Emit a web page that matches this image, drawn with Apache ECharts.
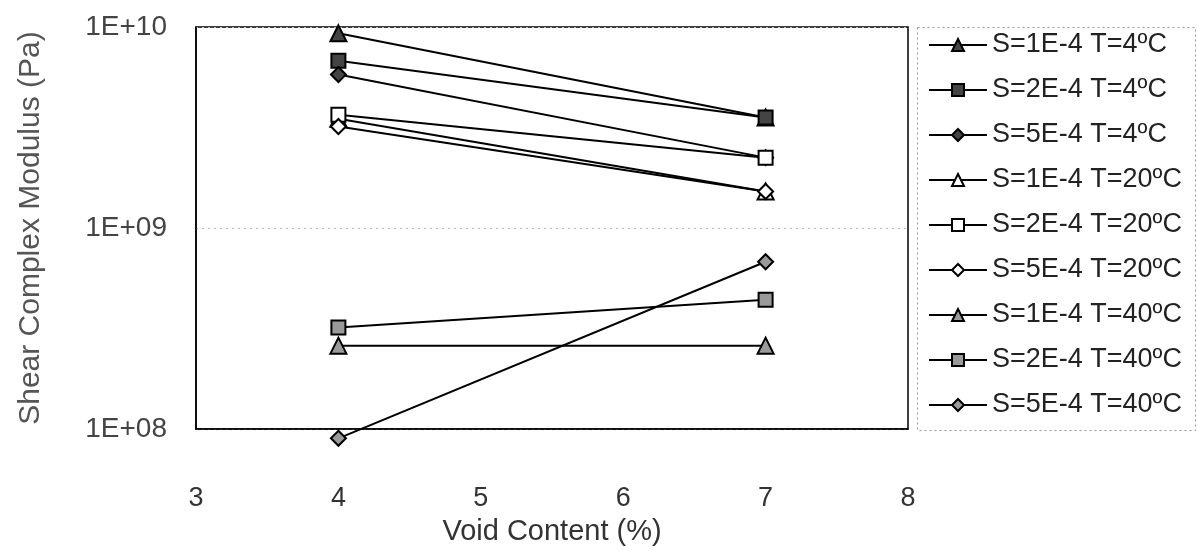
<!DOCTYPE html>
<html>
<head>
<meta charset="utf-8">
<script src="https://cdn.jsdelivr.net/npm/echarts@6/dist/echarts.min.js"></script>
<style>
html,body{margin:0;padding:0;background:#fff;}
#chart{width:1198px;height:551px;}
</style>
</head>
<body>
<div id="chart"></div>
<script>
// ---- data ----
const voidContent = [4, 7];
const seriesNames = [
  'S=1E-4 T=4ºC', 'S=2E-4 T=4ºC', 'S=5E-4 T=4ºC',
  'S=1E-4 T=20ºC', 'S=2E-4 T=20ºC', 'S=5E-4 T=20ºC',
  'S=1E-4 T=40ºC', 'S=2E-4 T=40ºC', 'S=5E-4 T=40ºC'
];
const s1T4  = [9.3e9, 3.55e9];
const s2T4  = [6.8e9, 3.55e9];
const s5T4  = [5.8e9, 2.24e9];
const s1T20 = [3.5e9, 1.52e9];
const s2T20 = [3.66e9, 2.24e9];
const s5T20 = [3.2e9, 1.52e9];
const s1T40 = [2.6e8, 2.6e8];
const s2T40 = [3.2e8, 4.4e8];
const s5T40 = [9.0e7, 6.8e8];
const xTicks = [3, 4, 5, 6, 7, 8];
const yTicks = [1e8, 1e9, 1e10];

const allValues = [s1T4, s2T4, s5T4, s1T20, s2T20, s5T20, s1T40, s2T40, s5T40];
const symbols = ['triangle', 'rect', 'diamond'];
const fills = ['#444', '#fff', '#9a9a9a'];
const sizes = [16, 14, 15];

const FONT = 'Liberation Sans, Arial, sans-serif';

const series = allValues.map((vals, i) => {
  const s = i % 3, t = Math.floor(i / 3);
  return {
    name: seriesNames[i],
    type: 'line',
    clip: false,
    data: vals.map((v, k) => [voidContent[k], v]),
    symbol: symbols[s],
    symbolSize: sizes[s],
    showAllSymbol: true,
    lineStyle: { color: '#000', width: 2 },
    itemStyle: { color: fills[t], borderColor: '#000', borderWidth: 2 },
    emphasis: { disabled: true },
    z: 3 + i
  };
});

const chart = echarts.init(document.getElementById('chart'), null, { renderer: 'canvas' });
chart.setOption({
  animation: false,
  backgroundColor: '#fff',
  textStyle: { fontFamily: FONT },
  grid: { left: 196, right: 290, top: 27, bottom: 116, show: true, borderColor: '#000', borderWidth: 1.5, backgroundColor: 'transparent' },
  legend: {
    orient: 'vertical',
    left: 928, top: 30,
    padding: 0,
    itemWidth: 58, itemHeight: 15,
    itemGap: 15,
    itemTextGap: 6,
    textStyle: { fontSize: 27, color: '#222', lineHeight: 30, fontFamily: FONT },
    data: seriesNames
  },
  graphic: [{
    type: 'rect',
    shape: { x: 917.5, y: 27.5, width: 278, height: 403 },
    style: { fill: 'none', stroke: '#999', lineWidth: 1, lineDash: [2, 3] },
    silent: true
  }],
  xAxis: {
    type: 'value', min: 3, max: 8, interval: 1,
    name: 'Void Content (%)', nameLocation: 'middle', nameGap: 66,
    nameTextStyle: { fontSize: 29, color: '#333', fontFamily: FONT },
    axisLine: { show: true, lineStyle: { color: '#000', width: 1.5 } },
    axisTick: { show: false },
    splitLine: { show: false },
    axisLabel: { fontSize: 27, color: '#333', margin: 56, fontFamily: FONT }
  },
  yAxis: {
    type: 'log', logBase: 10, min: 1e8, max: 1e10,
    name: 'Shear Complex Modulus (Pa)', nameLocation: 'middle', nameGap: 150,
    nameRotate: 90,
    nameTextStyle: { fontSize: 30, color: '#555', fontFamily: FONT },
    axisLine: { show: true, lineStyle: { color: '#000', width: 1.5 } },
    axisTick: { show: false },
    minorTick: { show: false },
    splitLine: { show: true, lineStyle: { color: '#bbb', type: [2, 4], width: 1 } },
    axisLabel: {
      fontSize: 28, color: '#444', margin: 29, fontFamily: FONT,
      formatter: v => '1E+' + String(Math.round(Math.log10(v))).padStart(2, '0')
    }
  },
  series: series
});
</script>
</body>
</html>
